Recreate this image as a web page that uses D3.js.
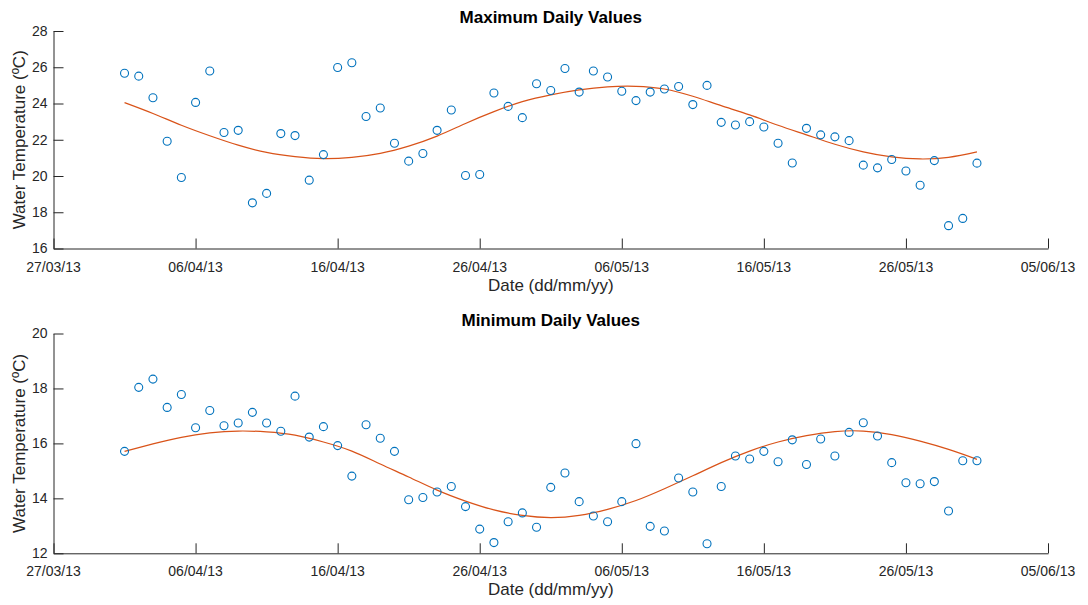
<!DOCTYPE html>
<html>
<head>
<meta charset="utf-8">
<script src="https://cdn.jsdelivr.net/npm/d3@7"></script>
<style>
  html, body { margin: 0; padding: 0; background: #fff; }
  svg { display: block; font-family: "Liberation Sans", Arial, sans-serif; }
</style>
</head>
<body>
<svg id="chart" width="1088" height="605"></svg>
<script>
// ---- data ----
const firstDay = "2013-04-01";
const lastDay = "2013-05-31";
const fitStepDays = 2;

const maxValues = [
  25.67, 25.51, 24.32, 21.92, 19.92, 24.06, 25.79, 22.40, 22.52, 18.52,
  19.04, 22.34, 22.23, 19.77, 21.18, 25.99, 26.25, 23.28, 23.75, 21.81,
  20.82, 21.24, 22.52, 23.64, 20.03, 20.08, 24.58, 23.84, 23.22, 25.09,
  24.72, 25.93, 24.63, 25.79, 25.46, 24.68, 24.16, 24.63, 24.80, 24.94,
  23.94, 25.00, 22.96, 22.81, 23.00, 22.70, 21.81, 20.72, 22.63, 22.27,
  22.16, 21.95, 20.60, 20.45, 20.91, 20.28, 19.49, 20.85, 17.26, 17.66,
  20.71
];
const minValues = [
  15.71, 18.04, 18.34, 17.31, 17.78, 16.57, 17.20, 16.64, 16.74, 17.13,
  16.74, 16.44, 17.72, 16.23, 16.61, 15.92, 14.81, 16.68, 16.19, 15.71,
  13.95, 14.03, 14.23, 14.43, 13.70, 12.88, 12.39, 13.15, 13.47, 12.95,
  14.40, 14.92, 13.88, 13.36, 13.15, 13.88, 15.99, 12.98, 12.81, 14.74,
  14.23, 12.35, 14.43, 15.54, 15.43, 15.71, 15.33, 16.13, 15.23, 16.16,
  15.54, 16.40, 16.75, 16.27, 15.30, 14.57, 14.53, 14.61, 13.54, 15.37,
  15.37
];
// fitted curves, read every 2 days from 01/04/13 to 31/05/13
const maxFit = [
  24.05, 23.45, 22.80, 22.22, 21.70, 21.30, 21.07, 20.96, 21.03, 21.25,
  21.65, 22.20, 22.90, 23.55, 24.10, 24.48, 24.75, 24.92, 24.95, 24.80,
  24.40, 23.88, 23.37, 22.80, 22.27, 21.75, 21.33, 21.05, 20.94, 21.03,
  21.33
];
const minFit = [
  15.71, 15.98, 16.22, 16.38, 16.45, 16.42, 16.30, 16.05, 15.72, 15.25,
  14.78, 14.30, 13.90, 13.58, 13.38, 13.30, 13.38, 13.60, 13.92, 14.35,
  14.82, 15.30, 15.72, 16.05, 16.28, 16.43, 16.45, 16.32, 16.08, 15.78,
  15.42
];
const xTickLabels = ["27/03/13", "06/04/13", "16/04/13", "26/04/13", "06/05/13", "16/05/13", "26/05/13", "05/06/13"];
const maxYTicks = [16, 18, 20, 22, 24, 26, 28];
const minYTicks = [12, 14, 16, 18, 20];
const titles = ["Maximum Daily Values", "Minimum Daily Values"];
const yLabel = "Water Temperature (ºC)";
const xLabel = "Date (dd/mm/yy)";

// ---- helpers ----
const parseDMY = d3.utcParse("%d/%m/%y");
const parseISO = d3.utcParse("%Y-%m-%d");
const fmt = d3.utcFormat("%d/%m/%y");
const tickDates = xTickLabels.map(parseDMY);
const dayDates = d3.utcDay.range(parseISO(firstDay), d3.utcDay.offset(parseISO(lastDay), 1));
const fitDates = d3.utcDay.range(parseISO(firstDay), d3.utcDay.offset(parseISO(lastDay), 1), fitStepDays);

const svg = d3.select("#chart");
const textColor = "#262626";
const left = 53.5, right = 1048;

function panel(cfg) {
  const x = d3.scaleUtc().domain([tickDates[0], tickDates[tickDates.length - 1]]).range([left, right]);
  const y = d3.scaleLinear().domain([cfg.yTicks[0], cfg.yTicks[cfg.yTicks.length - 1]]).range([cfg.bottom, cfg.top]);
  const g = svg.append("g");

  // fit line
  const line = d3.line().x((d, i) => x(fitDates[i])).y(d => y(d)).curve(d3.curveNatural);
  g.append("path").datum(cfg.fit).attr("d", line)
    .attr("fill", "none").attr("stroke", "#D95319").attr("stroke-width", 1.2);

  // points
  g.selectAll("circle.pt").data(cfg.values).enter().append("circle")
    .attr("class", "pt")
    .attr("cx", (d, i) => x(dayDates[i])).attr("cy", d => y(d)).attr("r", 4)
    .attr("fill", "none").attr("stroke", "#0072BD").attr("stroke-width", 1.1);

  // x axis (ticks inward)
  const xAxis = d3.axisTop(x).tickValues(tickDates).tickFormat("").tickSizeInner(10).tickSizeOuter(0);
  const gx = g.append("g").attr("transform", `translate(0,${cfg.bottom})`).call(xAxis);
  gx.select(".domain").attr("stroke", textColor);
  gx.selectAll(".tick line").attr("stroke", textColor);
  g.append("g").selectAll("text").data(tickDates).enter().append("text")
    .attr("x", d => x(d)).attr("y", cfg.bottom + 23)
    .attr("text-anchor", "middle").attr("font-size", 14).attr("fill", textColor)
    .text(d => fmt(d));

  // y axis (ticks inward)
  const yAxis = d3.axisRight(y).tickValues(cfg.yTicks).tickFormat("").tickSizeInner(10).tickSizeOuter(0);
  const gy = g.append("g").attr("transform", `translate(${left},0)`).call(yAxis);
  gy.select(".domain").attr("stroke", textColor);
  gy.selectAll(".tick line").attr("stroke", textColor);
  g.append("g").selectAll("text").data(cfg.yTicks).enter().append("text")
    .attr("x", left - 6).attr("y", d => y(d)).attr("dy", "0.35em")
    .attr("text-anchor", "end").attr("font-size", 14).attr("fill", textColor)
    .text(d => d);

  // labels
  g.append("text").attr("x", (left + right) / 2).attr("y", cfg.top - 8)
    .attr("text-anchor", "middle").attr("font-size", 17).attr("font-weight", "bold").attr("fill", "#000")
    .text(cfg.title);
  g.append("text").attr("x", (left + right) / 2).attr("y", cfg.bottom + 42)
    .attr("text-anchor", "middle").attr("font-size", 17).attr("fill", textColor)
    .text(xLabel);
  g.append("text")
    .attr("transform", `translate(25,${(cfg.top + cfg.bottom) / 2}) rotate(-90)`)
    .attr("text-anchor", "middle").attr("font-size", 17).attr("fill", textColor)
    .text(yLabel);
}

panel({ top: 31, bottom: 248.5, yTicks: maxYTicks, values: maxValues, fit: maxFit, title: titles[0] });
panel({ top: 333.5, bottom: 553.3, yTicks: minYTicks, values: minValues, fit: minFit, title: titles[1] });
</script>
</body>
</html>
